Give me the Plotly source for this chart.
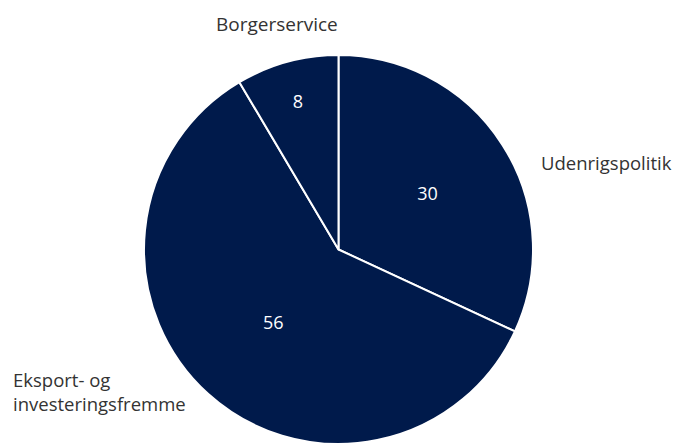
import plotly.graph_objects as go

categories = ["Udenrigspolitik", "Eksport- og<br>investeringsfremme", "Borgerservice"]
values = [30, 56, 8]

W, H = 675, 436
NAVY = "#001a4b"
FONT = "Open Sans, Noto Sans, sans-serif"

fig = go.Figure()
fig.add_trace(go.Pie(
    labels=categories,
    values=values,
    sort=False,
    direction="clockwise",
    rotation=0,
    marker=dict(colors=[NAVY] * 3, line=dict(color="white", width=2)),
    textinfo="value",
    textposition="inside",
    insidetextorientation="horizontal",
    textfont=dict(family=FONT, size=18, color="white"),
    domain=dict(x=[136 / W, 525 / W], y=[0, 1 - 47 / H]),
    showlegend=False,
    hoverinfo="label+value",
))

label_pos = [
    (531 / W, 1 - 154 / H, "left", 18.5),
    (3 / W, 1 - 383 / H, "left", 18.5),
    (269 / W, 1 - 16 / H, "center", 19),
]
for name, (x, y, anchor, size) in zip(categories, label_pos):
    fig.add_annotation(
        text=name, x=x, y=y, xref="paper", yref="paper",
        xanchor=anchor, yanchor="middle", align="left", showarrow=False,
        font=dict(family=FONT, size=size, color="#333333"),
    )

fig.update_layout(
    width=W, height=H,
    margin=dict(l=0, r=0, t=0, b=0),
    paper_bgcolor="white",
    plot_bgcolor="white",
)

fig.write_html("out.html")
